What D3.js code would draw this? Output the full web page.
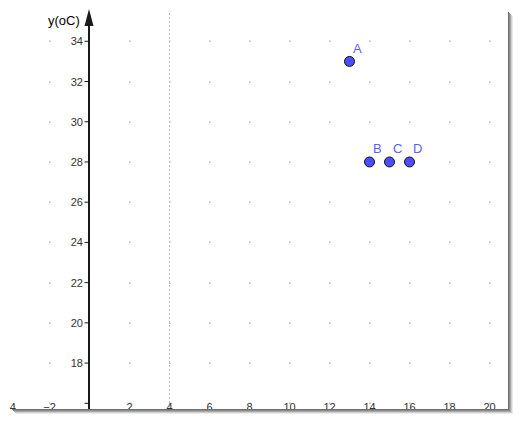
<!DOCTYPE html>
<html>
<head>
<meta charset="utf-8">
<script src="https://cdn.jsdelivr.net/npm/d3@7"></script>
<style>
  html, body { margin: 0; padding: 0; background: #fff; }
  svg { display: block; font-family: "Liberation Sans", Arial, sans-serif; }
</style>
</head>
<body>
<div id="chart"></div>
<script>
const width  = 521;
const height = 421;

// points
const pointNames = ["A", "B", "C", "D"];
const pointX     = [13, 14, 15, 16];
const pointY     = [33, 28, 28, 28];

const xTicks = [-4, -2, 2, 4, 6, 8, 10, 12, 14, 16, 18, 20];
const yTicks = [18, 20, 22, 24, 26, 28, 30, 32, 34];
const gridX  = [-2, 2, 4, 6, 8, 10, 12, 14, 16, 18, 20];
const gridY  = [16, 18, 20, 22, 24, 26, 28, 30, 32, 34];
const markerX = 4;          // the dotted vertical line
const yAxisTitle = "y(oC)";

const frameRight  = 508;
const frameBottom = 409;

const x = d3.scaleLinear().domain([0, 20]).range([89.5, 489.5]);
const y = d3.scaleLinear().domain([16, 34]).range([403.3, 41.3]);

const svg = d3.select("#chart").append("svg")
    .attr("width", width)
    .attr("height", height);

svg.append("defs").append("clipPath")
    .attr("id", "plotclip")
  .append("rect")
    .attr("x", 9.5).attr("y", 0)
    .attr("width", frameRight - 9.5).attr("height", height);

// grid dots
const dots = [];
gridX.forEach(gx => gridY.forEach(gy => dots.push([gx, gy])));
svg.append("g").selectAll("rect")
  .data(dots).enter()
    .append("rect")
      .attr("x", d => Math.round(x(d[0])) - 1)
      .attr("y", d => Math.round(y(d[1])) - 0.5)
      .attr("width", 1.5)
      .attr("height", 1.5)
      .attr("fill", "#b8b8b8");

// dotted line at x = 4
svg.append("line")
    .attr("x1", x(markerX)).attr("x2", x(markerX))
    .attr("y1", 13).attr("y2", frameBottom)
    .attr("stroke", "#bdbdbd")
    .attr("stroke-width", 1)
    .attr("stroke-dasharray", "2,2");

// y axis with arrow
svg.append("line")
    .attr("x1", x(0) - 0.5).attr("x2", x(0) - 0.5)
    .attr("y1", 22).attr("y2", frameBottom)
    .attr("stroke", "#1a1a1a")
    .attr("stroke-width", 2);

svg.append("path")
    .attr("d", "M" + (x(0) - 0.5) + ",9 L" + (x(0) - 5) + ",26 L" + (x(0) + 4) + ",26 Z")
    .attr("fill", "#1a1a1a");

svg.append("g").selectAll("line")
  .data(gridY).enter()
    .append("line")
      .attr("x1", x(0) - 5).attr("x2", x(0) - 0.5)
      .attr("y1", d => y(d)).attr("y2", d => y(d))
      .attr("stroke", "#1a1a1a")
      .attr("stroke-width", 1);

svg.append("text")
    .attr("x", 48)
    .attr("y", 25)
    .attr("font-size", 13)
    .attr("fill", "#000")
    .text(yAxisTitle);

// y tick labels
svg.append("g").selectAll("text")
  .data(yTicks).enter()
    .append("text")
      .attr("x", 83)
      .attr("y", d => y(d) + 4)
      .attr("text-anchor", "end")
      .attr("font-size", 11)
      .attr("fill", "#333")
      .text(d => d);

// x tick labels along the bottom edge
svg.append("g")
    .attr("clip-path", "url(#plotclip)")
  .selectAll("text")
  .data(xTicks).enter()
    .append("text")
      .attr("x", d => x(d))
      .attr("y", 410.5)
      .attr("text-anchor", "middle")
      .attr("font-size", 11)
      .attr("fill", "#333")
      .text(d => d < 0 ? "\u2212" + Math.abs(d) : d);

// frame shadow on right and bottom
const shades = ["#6f6f6f", "#8a8a8a", "#a9a9a9", "#cfcfcf", "#ececec"];
shades.forEach((c, i) => {
  svg.append("line")
      .attr("x1", frameRight + i + 0.5).attr("x2", frameRight + i + 0.5)
      .attr("y1", 12 + i).attr("y2", frameBottom + i + 1)
      .attr("stroke", c);
  svg.append("line")
      .attr("x1", 12 + i).attr("x2", frameRight + i + 1)
      .attr("y1", frameBottom + i + 0.5).attr("y2", frameBottom + i + 0.5)
      .attr("stroke", c);
});

// points
const pts = pointNames.map((n, i) => ({ name: n, x: pointX[i], y: pointY[i] }));

svg.append("g").selectAll("circle")
  .data(pts).enter()
    .append("circle")
      .attr("cx", d => x(d.x))
      .attr("cy", d => y(d.y))
      .attr("r", 5)
      .attr("fill", "#4d4dff")
      .attr("stroke", "#111")
      .attr("stroke-width", 1);

svg.append("g").selectAll("text")
  .data(pts).enter()
    .append("text")
      .attr("x", d => x(d.x) + 3.5)
      .attr("y", d => y(d.y) - 8.5)
      .attr("font-size", 13)
      .attr("fill", "#5c5cff")
      .text(d => d.name);
</script>
</body>
</html>
